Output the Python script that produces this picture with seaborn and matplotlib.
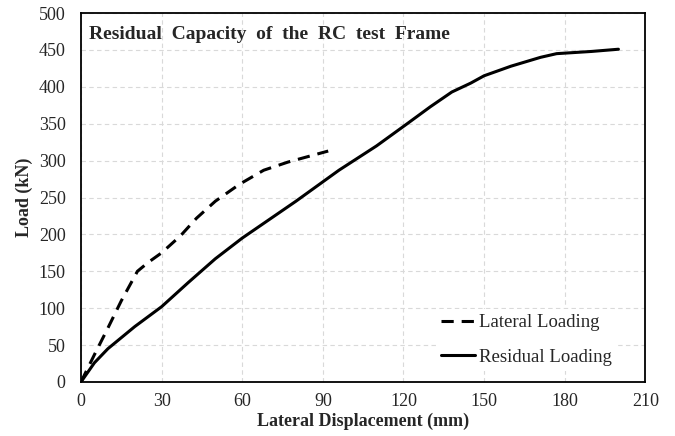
import pandas as pd
import seaborn as sns
import matplotlib.pyplot as plt

# Load-displacement curves
lat_disp = [0, 5, 10, 15, 21, 25, 30, 37, 43, 50, 59, 68, 77, 85, 92]
lat_load = [0, 37, 73, 110, 150, 162, 175, 198, 222, 245, 268, 287, 298, 306, 313]

res_disp = [0, 5, 10, 20, 30, 40, 50, 60, 70, 80, 96, 110, 121, 130, 138, 145, 150, 160, 171, 177, 190, 200]
res_load = [0, 26, 45, 75, 102, 135, 167, 195, 220, 245, 287, 320, 349, 373, 393, 405, 415, 428, 440, 445, 448, 451]

x_ticks = [0, 30, 60, 90, 120, 150, 180, 210]
y_ticks = [0, 50, 100, 150, 200, 250, 300, 350, 400, 450, 500]

df = pd.concat([
    pd.DataFrame({"disp": lat_disp, "load": lat_load, "case": "Lateral Loading"}),
    pd.DataFrame({"disp": res_disp, "load": res_load, "case": "Residual Loading"}),
], ignore_index=True)

sns.set_theme(style="white")
plt.rcParams['font.family'] = ['Liberation Serif', 'DejaVu Serif']

fig = plt.figure(figsize=(6.75, 4.36), dpi=100)
ax = fig.add_axes([0.12, 0.124, 0.836, 0.846])

sns.lineplot(data=df, x="disp", y="load", style="case", color="black",
             dashes={"Lateral Loading": (4, 2.6), "Residual Loading": ""},
             linewidth=2.2, sort=False, estimator=None, ax=ax)

ax.set_xlim(0, 210)
ax.set_ylim(0, 500)
ax.set_xticks(x_ticks)
ax.set_yticks(y_ticks)
ax.tick_params(labelsize=13, length=0)
ax.tick_params(axis="y", pad=11)
ax.tick_params(axis="x", pad=8)
ax.grid(True, color="#d9d9d9", linestyle=(0, (4, 3)), linewidth=0.8)
for s in ax.spines.values():
    s.set_color("black")
    s.set_linewidth(1.3)

ax.set_xlabel("Lateral Displacement (mm)", fontsize=13, fontweight="bold", labelpad=2)
ax.set_ylabel("Load (kN)", fontsize=13, fontweight="bold", labelpad=4)
ax.text(0.015, 0.965, "Residual  Capacity  of  the  RC  test  Frame", transform=ax.transAxes,
        fontsize=14, fontweight="bold", va="top", ha="left")

leg = ax.legend(loc="lower right", bbox_to_anchor=(0.965, 0.005), fontsize=13.5,
                frameon=True, facecolor="white", edgecolor="none", framealpha=1,
                handlelength=1.8, handletextpad=0.2, labelspacing=0.95, borderpad=0.25)

fig.savefig("out.png", dpi=100)
